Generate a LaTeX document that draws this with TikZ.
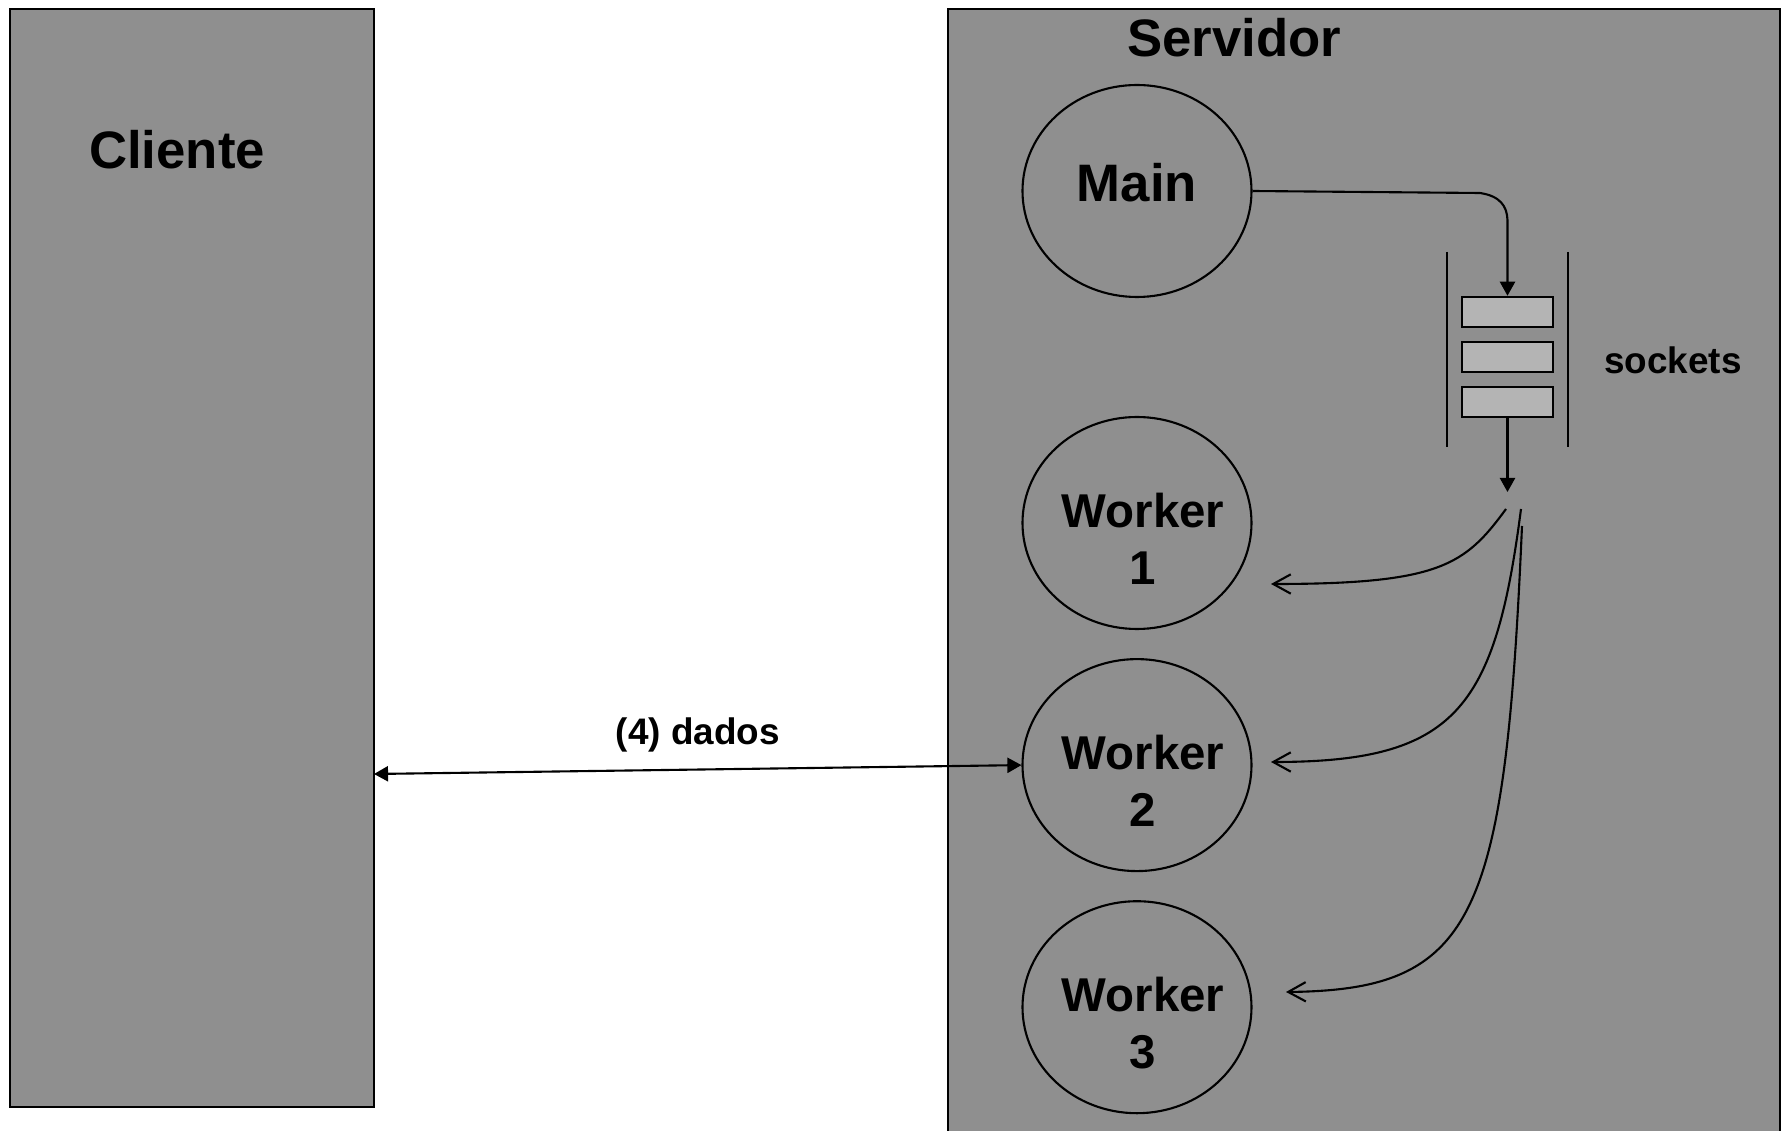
\documentclass[tikz,border=0pt]{standalone}
\usepackage{fontspec}
\setmainfont{Liberation Sans}
\usetikzlibrary{arrows.meta,shapes.geometric,positioning}

\definecolor{panelgray}{RGB}{143,143,143}
\definecolor{socketgray}{RGB}{180,180,180}

\begin{document}
\begin{tikzpicture}[x=0.1mm,y=-0.1mm,
    panel/.style={draw,line width=0.8pt,fill=panelgray,inner sep=0pt},
    proc/.style={draw,ellipse,line width=0.6pt,minimum width=22.9mm,minimum height=21.2mm,inner sep=0pt},
    sockbox/.style={draw,line width=0.7pt,fill=socketgray,minimum width=9.1mm,minimum height=3mm,inner sep=0pt},
    bigtxt/.style={font=\fontsize{15}{18}\selectfont\bfseries},
    wtxt/.style={font=\fontsize{13.5}{16.2}\selectfont\bfseries,align=center},
    smalltxt/.style={font=\fontsize{10.5}{12.6}\selectfont\bfseries},
    fill arrow/.style={-{Triangle[length=4pt,width=4.3pt]},line width=0.6pt},
    open arrow/.style={-{Straight Barb[length=5pt,width=5.5pt]},line width=0.6pt}]
  \clip (0,0) rectangle (1784,1131);
  \fill[white] (0,0) rectangle (1784,1131);

  % the two machines
  \draw (192,558) node[panel,minimum width=36.4mm,minimum height=109.8mm] (cliente) {};
  \draw (1364,580) node[panel,minimum width=83.2mm,minimum height=114.2mm] (servidor) {};
  \draw (177,150) node[bigtxt] (cltxt) {Cliente};
  \draw (1234,38) node[bigtxt] (svtxt) {Servidor};

  % processes
  \draw (1137,191) node[proc] (main) {};
  \draw (1137,523) node[proc] (w1) {};
  \node[proc,below=2.8mm of w1] (w2) {};
  \node[proc,below=2.8mm of w2] (w3) {};
  \draw ([yshift=2.5pt]main.center) node[bigtxt] (maintxt) {Main};
  \draw ([xshift=1.7pt,yshift=-4.5pt]w1.center) node[wtxt] (w1txt) {Worker\\1};
  \draw ([xshift=1.7pt,yshift=-4.5pt]w2.center) node[wtxt] (w2txt) {Worker\\2};
  \draw ([xshift=1.7pt,yshift=-4.5pt]w3.center) node[wtxt] (w3txt) {Worker\\3};

  % socket queue
  \draw (1507.5,312) node[sockbox] (s1) {};
  \node[sockbox,below=1.25mm of s1] (s2) {};
  \node[sockbox,below=1.25mm of s2] (s3) {};
  \draw[line width=0.6pt] (1447,252) -- (1447,447);
  \draw[line width=0.6pt] (1568,252) -- (1568,447);
  \draw (1673,360) node[smalltxt] (socktxt) {sockets};

  \coordinate (qout) at (1507.5,492);
  \coordinate (fan1) at (1506,509);
  \coordinate (fan2) at (1521,509);
  \coordinate (fan3) at (1522,526);
  \coordinate (in1) at (1271,584);
  \coordinate (in2) at (1271,762);
  \coordinate (in3) at (1286,992);
  \coordinate (clport) at (374,774);

  % connections
  \draw[fill arrow] (main.east) -- (1480,193) .. controls (1500,196) and (1507,206) .. (1507.5,220) -- (s1.north);
  \draw[fill arrow] (s3.south) -- (qout);
  \draw[open arrow] (fan1) .. controls (1465,565) and (1440,584) .. (in1);
  \draw[open arrow] (fan2) .. controls (1495,710) and (1455,762) .. (in2);
  \draw[open arrow] (fan3) .. controls (1505,920) and (1475,990) .. (in3);

  \path[{Triangle[length=4pt,width=4.3pt]}-{Triangle[length=4pt,width=4.3pt]},line width=0.6pt]
    (clport) edge node[label={[smalltxt,label distance=-2.3pt]above:(4) dados}] {} (w2.west);
\end{tikzpicture}
\end{document}
